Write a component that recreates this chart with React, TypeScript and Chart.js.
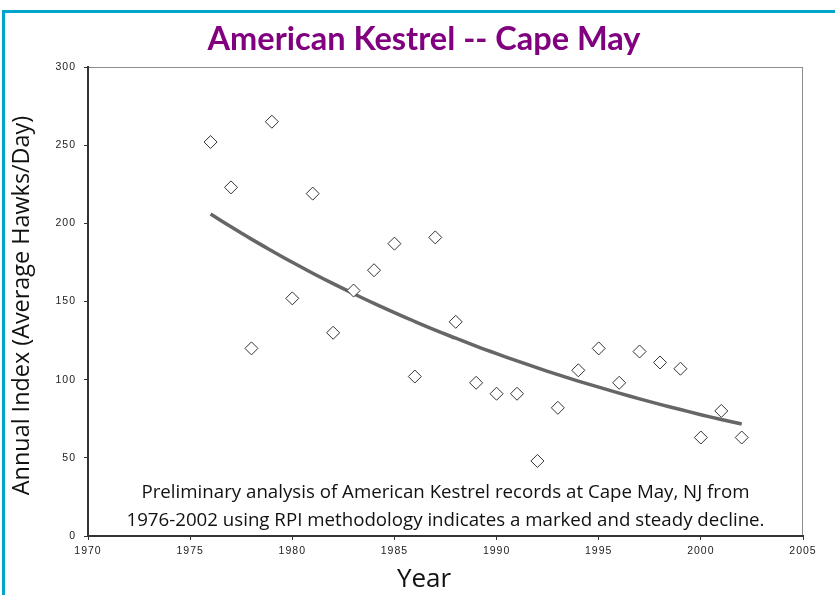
import { useEffect, useRef } from 'react';
import { Chart, registerables } from 'chart.js';

Chart.register(...registerables);

const years = [1976, 1977, 1978, 1979, 1980, 1981, 1982, 1983, 1984, 1985, 1986, 1987, 1988, 1989, 1990, 1991, 1992, 1993, 1994, 1995, 1996, 1997, 1998, 1999, 2000, 2001, 2002];
const annualIndex = [252, 223, 120, 265, 152, 219, 130, 157, 170, 187, 102, 191, 137, 98, 91, 91, 48, 82, 106, 120, 98, 118, 111, 107, 63, 80, 63];
const trendValues = [206, 197.8, 189.9, 182.4, 175.1, 168.1, 161.4, 155.0, 148.8, 142.9, 137.2, 131.7, 126.5, 121.4, 116.6, 112.0, 107.5, 103.2, 99.1, 95.2, 91.4, 87.7, 84.2, 80.9, 77.6, 74.5, 71.6];
const xTickLabels = ['1970', '1975', '1980', '1985', '1990', '1995', '2000', '2005'];
const yTickLabels = ['0', '50', '100', '150', '200', '250', '300'];

const titleText = 'American Kestrel -- Cape May';
const yAxisTitle = 'Annual Index (Average Hawks/Day)';
const xAxisTitle = 'Year';
const noteLines = [
  'Preliminary analysis of American Kestrel records at Cape May, NJ from',
  '1976-2002 using RPI methodology indicates a marked and steady decline.',
];

const W = 835;
const H = 595;

const decorPlugin = {
  id: 'decor',
  beforeDraw(chart: any) {
    const { ctx, chartArea: a } = chart;
    ctx.save();
    ctx.fillStyle = '#ffffff';
    ctx.fillRect(0, 0, W, H);
    ctx.fillStyle = '#00a5cb';
    ctx.fillRect(2, 10, W - 2, 3);
    ctx.fillRect(2, 10, 3, H - 10);
    ctx.strokeStyle = '#8c8c8c';
    ctx.lineWidth = 1;
    ctx.strokeRect(a.left + 0.5, a.top + 0.5, a.right - a.left - 1, a.bottom - a.top);
    ctx.restore();
    ctx.letterSpacing = '1px';
  },
  afterDraw(chart: any) {
    const { ctx, chartArea: a } = chart;
    ctx.letterSpacing = '0px';
    ctx.save();
    // title
    ctx.fillStyle = '#800080';
    ctx.font = 'bold 32.5px Lato';
    ctx.textAlign = 'center';
    ctx.textBaseline = 'alphabetic';
    ctx.fillText(titleText, 424, 50);
    // note
    ctx.fillStyle = '#111111';
    ctx.font = '18.7px "Open Sans"';
    const cx = (a.left + a.right) / 2;
    ctx.fillText(noteLines[0], cx, a.bottom - 38);
    ctx.fillText(noteLines[1], cx, a.bottom - 10);
    // x title
    ctx.font = '26px "Open Sans"';
    ctx.fillText(xAxisTitle, 424, 587);
    // y title
    ctx.save();
    ctx.translate(29, (a.top + a.bottom) / 2 + 4);
    ctx.rotate(-Math.PI / 2);
    ctx.font = '23.4px "Open Sans"';
    ctx.fillText(yAxisTitle, 0, 0);
    ctx.restore();
    ctx.restore();
  },
};

export default function App() {
  const ref = useRef<HTMLCanvasElement | null>(null);
  useEffect(() => {
    if (!ref.current) return;
    const chart = new Chart(ref.current, {
      type: 'scatter',
      data: {
        datasets: [
          {
            label: 'Annual Index',
            data: years.map((x, i) => ({ x, y: annualIndex[i] })),
            pointStyle: 'rectRot',
            pointRadius: 6.5,
            pointBackgroundColor: '#ffffff',
            pointBorderColor: '#333333',
            pointBorderWidth: 1,
            showLine: false,
          },
          {
            label: 'Trend',
            type: 'line',
            data: years.map((x, i) => ({ x, y: trendValues[i] })),
            borderColor: '#666666',
            borderWidth: 3.5,
            pointRadius: 0,
            tension: 0.4,
            fill: false,
          } as any,
        ],
      },
      options: {
        responsive: false,
        animation: false,
        layout: { padding: { left: 0, top: 67, right: 32, bottom: 0 } },
        plugins: { legend: { display: false }, tooltip: { enabled: false }, title: { display: false } },
        scales: {
          x: {
            type: 'linear',
            min: 1970,
            max: 2005,
            afterFit: (s: any) => { s.height = 59; },
            afterBuildTicks: (s: any) => { s.ticks = xTickLabels.map((l) => ({ value: Number(l) })); },
            ticks: {
              callback: (v: any) => String(v),
              font: { family: '"Liberation Sans"', size: 10.5 },
              color: '#222222',
              padding: 5,
              maxRotation: 0,
            },
            grid: { display: true, drawOnChartArea: false, drawTicks: true, tickLength: 4, color: '#333333', lineWidth: 1 },
            border: { display: true, color: '#333333', width: 2 },
          },
          y: {
            type: 'linear',
            min: 0,
            max: 300,
            afterFit: (s: any) => { s.width = 88; },
            afterBuildTicks: (s: any) => { s.ticks = yTickLabels.map((l) => ({ value: Number(l) })); },
            ticks: {
              callback: (v: any) => String(v),
              font: { family: '"Liberation Sans"', size: 10.5 },
              color: '#222222',
              padding: 8,
            },
            grid: { display: true, drawOnChartArea: false, drawTicks: true, tickLength: 4, color: '#333333', lineWidth: 1 },
            border: { display: true, color: '#333333', width: 2 },
          },
        },
      },
      plugins: [decorPlugin],
    });
    return () => chart.destroy();
  }, []);
  return (
    <div style={{ position: 'fixed', left: 0, top: 0, width: W, height: H, background: '#fff' }}>
      <canvas ref={ref} width={W} height={H} style={{ width: W, height: H, display: 'block' }} />
    </div>
  );
}
